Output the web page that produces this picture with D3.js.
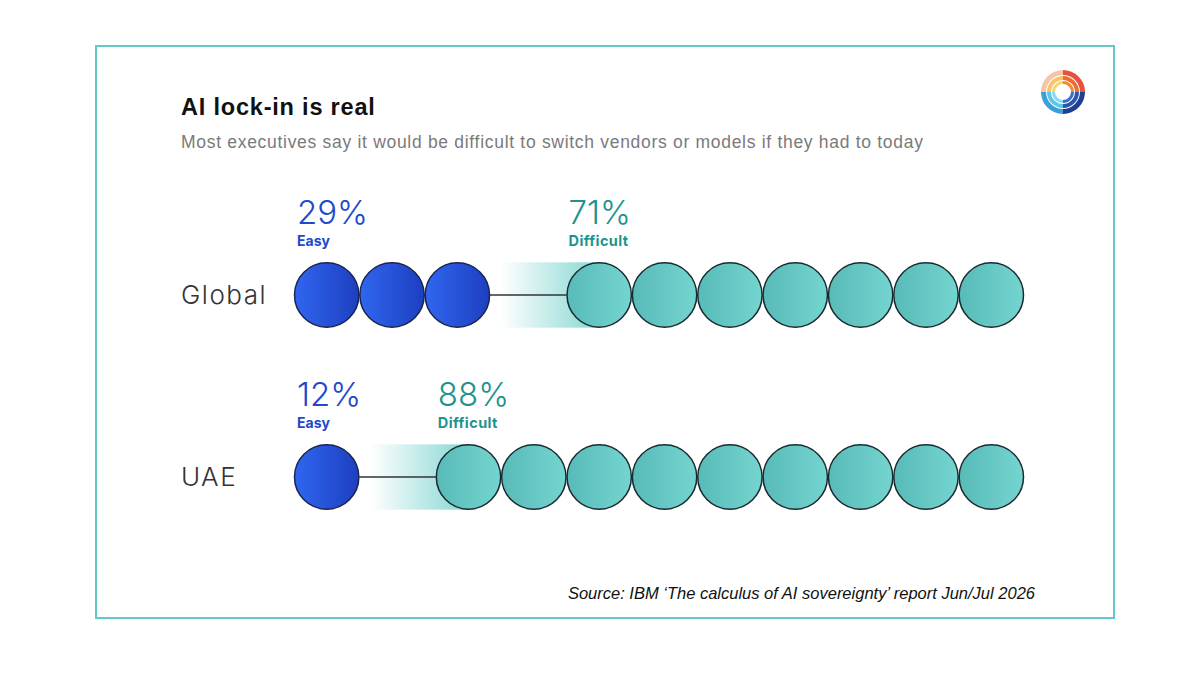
<!DOCTYPE html>
<html><head><meta charset="utf-8">
<script src="https://cdn.jsdelivr.net/npm/d3@7"></script>
<style>
html,body{margin:0;padding:0;background:#fff;}
svg text{font-family:"Inter","Roboto","Liberation Sans",sans-serif;}
</style></head>
<body><svg id="chart" width="1200" height="675"></svg>
<script>
const regions = ["Global", "UAE"];
const easyPct = [29, 12];
const difficultPct = [71, 88];
const easyCircles = [3, 1];
const difficultCircles = [7, 9];
const seriesLabels = ["Easy", "Difficult"];
const title = "AI lock-in is real";
const subtitle = "Most executives say it would be difficult to switch vendors or models if they had to today";
const source = "Source: IBM \u2018The calculus of AI sovereignty\u2019 report Jun/Jul 2026";

const svg = d3.select("#chart");
const defs = svg.append("defs");

const gEasy = defs.append("linearGradient").attr("id","gEasy");
gEasy.append("stop").attr("offset","0%").attr("stop-color","#3066f0");
gEasy.append("stop").attr("offset","100%").attr("stop-color","#1d3fbf");
const gDiff = defs.append("linearGradient").attr("id","gDiff");
gDiff.append("stop").attr("offset","0%").attr("stop-color","#58bbb7");
gDiff.append("stop").attr("offset","100%").attr("stop-color","#74d4d0");
const gFade = defs.append("linearGradient").attr("id","gFade");
gFade.append("stop").attr("offset","0%").attr("stop-color","#6fd0cb").attr("stop-opacity",0);
gFade.append("stop").attr("offset","100%").attr("stop-color","#6fd0cb").attr("stop-opacity",0.85);

// frame
svg.append("rect").attr("x",96).attr("y",46).attr("width",1018).attr("height",572)
  .attr("fill","none").attr("stroke","#63c9c6").attr("stroke-width",2);

svg.append("text").attr("x",181).attr("y",115).attr("font-size",23.5).attr("font-weight",700)
  .attr("letter-spacing",0.8).attr("fill","#111")
  .style("font-family","'Liberation Sans',Arial,sans-serif").text(title);
svg.append("text").attr("x",181).attr("y",148).attr("font-size",17.5).attr("font-weight",400)
  .attr("letter-spacing",0.7).attr("fill","#7a7a7a")
  .style("font-family","'Liberation Sans',Arial,sans-serif").text(subtitle);

// logo
const logo = svg.append("g").attr("transform","translate(1063,92)");
const logoRings = [
  {r0:17,r1:22,cols:["#f6c4a6","#e8513a","#1f3f8f","#3aa0d8"]},
  {r0:12,r1:16,cols:["#f7c36a","#ef6a35","#2b55b0","#5cc8e8"]},
  {r0:8,r1:11,cols:["#fbd36b","#f28c2a","#3a6fd0","#8ad8ef"]}
];
const arc = d3.arc();
logoRings.forEach(ring=>{
  ring.cols.forEach((c,i)=>{
    logo.append("path").attr("d",arc({innerRadius:ring.r0,outerRadius:ring.r1,
      startAngle:-Math.PI/2 + i*Math.PI/2, endAngle:-Math.PI/2+(i+1)*Math.PI/2}))
      .attr("fill",c);
  });
});

const gapUnits = 1.17;
const x = d3.scaleLinear().domain([0, 11.17]).range([294, 1024]);
const yRow = d3.scalePoint().domain(regions).range([295, 477]);
const unit = x(1) - x(0);
const r = unit/2;

regions.forEach((reg,k)=>{
  const cy = yRow(reg);
  const nE = easyCircles[k], nD = difficultCircles[k];
  const g = svg.append("g");
  g.append("text").attr("x",181).attr("y",cy).attr("dy","0.36em").attr("font-size",26)
    .attr("font-weight",300).attr("letter-spacing",1.5).attr("fill","#333").text(reg);

  const dStart = nE + gapUnits;
  g.append("rect").attr("x", x(dStart) - unit*1.0).attr("y", cy - r).attr("width", unit*1.0 + r)
    .attr("height", 2*r).attr("fill","url(#gFade)");
  g.append("line").attr("x1", x(nE)).attr("x2", x(dStart)).attr("y1", cy).attr("y2", cy)
    .attr("stroke","#333").attr("stroke-width",1.5);

  g.selectAll("circle.e").data(d3.range(nE)).join("circle")
    .attr("cx", i=>x(i+0.5)).attr("cy",cy).attr("r",r-0.5)
    .attr("fill","url(#gEasy)").attr("stroke","#1a2450").attr("stroke-width",1.5);
  g.selectAll("circle.d").data(d3.range(nD)).join("circle")
    .attr("cx", i=>x(dStart+i+0.5)).attr("cy",cy).attr("r",r-0.5)
    .attr("fill","url(#gDiff)").attr("stroke","#1a2a30").attr("stroke-width",1.5);

  const ly = cy - 71, sy = cy - 49;
  g.append("text").attr("x", x(0)+3).attr("y", ly).attr("font-size",33).attr("font-weight",300)
    .attr("fill","#2049cc").text(easyPct[k]+"%");
  g.append("text").attr("x", x(0)+3).attr("y", sy).attr("font-size",14).attr("font-weight",700)
    .attr("fill","#2049cc").text(seriesLabels[0]);
  g.append("text").attr("x", x(dStart)+2).attr("y", ly).attr("font-size",33).attr("font-weight",300)
    .attr("fill","#1d948f").text(difficultPct[k]+"%");
  g.append("text").attr("x", x(dStart)+2).attr("y", sy).attr("font-size",14.5).attr("font-weight",700)
    .attr("letter-spacing",0.4).attr("fill","#1d948f").text(seriesLabels[1]);
});

svg.append("text").attr("x",1035).attr("y",599).attr("text-anchor","end").attr("font-size",16.5)
  .attr("font-style","italic").attr("fill","#111")
  .style("font-family","'Liberation Sans',Arial,sans-serif").text(source);
</script></body></html>
